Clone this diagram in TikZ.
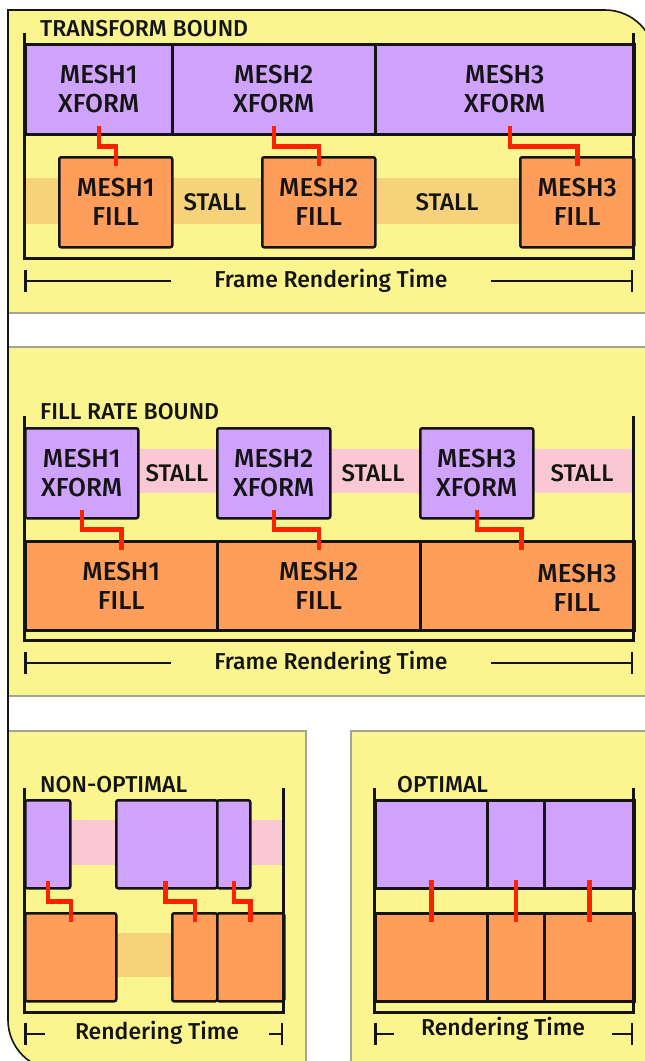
\documentclass[tikz,border=0pt]{standalone}
\usepackage{fontspec}
\setmainfont{Fira Sans Medium}
\usetikzlibrary{arrows.meta,calc}
\definecolor{bg}{RGB}{250,245,143}
\definecolor{purp}{RGB}{207,163,252}
\definecolor{orng}{RGB}{255,158,90}
\definecolor{pinkband}{RGB}{249,200,212}
\definecolor{stallor}{RGB}{246,210,122}
\definecolor{redc}{RGB}{255,34,0}
\definecolor{ink}{RGB}{20,20,20}
\definecolor{greyl}{RGB}{160,165,150}
\begin{document}
\begin{tikzpicture}[x=1pt,y=-1pt,
  box/.style={draw=ink, line width=2.5pt, rounded corners=2pt, anchor=north west, inner sep=0pt, align=center, text=ink, font=\fontsize{26}{29}\selectfont},
  xbox/.style={box, fill=purp},
  fbox/.style={box, fill=orng},
  strip/.style={rounded corners=0pt},
  bracket/.style={draw=ink, line width=3pt},
  redline/.style={draw=redc, line width=4.5pt},
  stalltext/.style={font=\fontsize{24}{26}\selectfont, text=ink, inner sep=0pt},
  titletext/.style={font=\fontsize{23}{25}\selectfont, text=ink, inner sep=0pt, anchor=base west},
  dimtext/.style={font=\fontsize{23}{25}\selectfont, text=ink, inner ysep=0pt},
  dimline/.style={draw=ink, line width=2pt, {Bar[width=22pt,line width=2.5pt]}-},
  outline/.style={draw=ink, line width=1.6pt},
  sep/.style={draw=greyl, line width=1.2pt}
]
\useasboundingbox (0,0) rectangle (645,1061);
\clip (0,0) rectangle (645,1061);
\fill[white] (0,0) rectangle (645,1061);

% ---------- panels ----------
\fill[bg] (8,313) -- (8,10) -- (605,10) .. controls (632.6,10) and (655,32.4) .. (655,60) -- (655,313) -- cycle;
\fill[bg] (8,347) rectangle (655,696);
\fill[bg] (8,731) -- (306,731) -- (306,1070) -- (58,1070) .. controls (30.4,1070) and (8,1047.6) .. (8,1020) -- cycle;
\fill[bg] (351,731) rectangle (655,1070);
\draw[sep] (8,313) -- (645,313);
\draw[sep] (8,347) -- (645,347);
\draw[sep] (8,696) -- (645,696);
\draw[sep] (8,731) -- (306,731) -- (306,1061);
\draw[sep] (645,731) -- (351,731) -- (351,1061);
\draw[outline] (58,1070) .. controls (30.4,1070) and (8,1047.6) .. (8,1020) -- (8,10) -- (605,10) .. controls (632.6,10) and (655,32.4) .. (655,60);

% ---------- panel 1: TRANSFORM BOUND ----------
\node[titletext] (t1) at (40,36) {TRANSFORM BOUND};
\fill[stallor] (24,178) rectangle (633,224);
\node[xbox, strip, minimum width=147pt, minimum height=90pt] (ax1) at (24,43) {MESH1\\XFORM};
\node[xbox, strip, minimum width=203pt, minimum height=90pt] (ax2) at (171,43) {MESH2\\XFORM};
\node[xbox, strip, minimum width=259pt, minimum height=90pt] (ax3) at (374,43) {MESH3\\XFORM};
\node[fbox, minimum width=113pt, minimum height=90pt] (af1) at (58,156) {MESH1\\FILL};
\node[fbox, minimum width=113pt, minimum height=90pt] (af2) at (261,156) {MESH2\\FILL};
\node[fbox, minimum width=114pt, minimum height=90pt] (af3) at (519,156) {MESH3\\FILL};
\node[stalltext] (as1) at (215,202) {STALL};
\node[stalltext] (as2) at (447,202) {STALL};
\draw[redline] ([yshift=10pt]ax1.south) -- ++(0,21) -| ([yshift=-10pt]af1.north);
\draw[redline] ([yshift=10pt]ax2.south) -- ++(0,21) -| ([yshift=-10pt]af2.north);
\draw[redline] ([xshift=5pt,yshift=10pt]ax3.south) -- ++(0,21) -| ([yshift=-10pt]af3.north);
\draw[bracket] (24,33) -- (24,258) -- (633,258) -- (633,33);
\coordinate (al) at (24,281);
\coordinate (ar) at (633,281);
\node[dimtext, inner xsep=43pt] (ad) at (331,281) {Frame Rendering Time};
\draw[dimline] (al) -- (ad.west);
\draw[dimline] (ar) -- (ad.east);

% ---------- panel 2: FILL RATE BOUND ----------
\node[titletext] (t2) at (40,419) {FILL RATE BOUND};
\fill[pinkband] (137,449) rectangle (633,493);
\node[xbox, minimum width=113pt, minimum height=90pt] (bx1) at (24,427) {MESH1\\XFORM};
\node[xbox, minimum width=113pt, minimum height=90pt] (bx2) at (216,427) {MESH2\\XFORM};
\node[xbox, minimum width=113pt, minimum height=90pt] (bx3) at (419,427) {MESH3\\XFORM};
\node[stalltext] (bs1) at (177,473) {STALL};
\node[stalltext] (bs2) at (373,473) {STALL};
\node[stalltext] (bs3) at (582,473) {STALL};
\node[fbox, strip, minimum width=192pt, minimum height=89pt] (bf1) at (24,540) {MESH1\\FILL};
\node[fbox, strip, minimum width=203pt, minimum height=89pt] (bf2) at (216,540) {MESH2\\FILL};
\node[fbox, strip, minimum width=214pt, minimum height=89pt] (bf3) at (419,540) {};
\node[box, draw=none, anchor=center] (bf3t) at (577,588) {MESH3\\FILL};
\draw[redline] ([yshift=10pt]bx1.south) -- ++(0,20) -| ([yshift=-10pt]bf1.north);
\draw[redline] ([yshift=10pt]bx2.south) -- ++(0,20) -| ([yshift=-10pt]bf2.north);
\draw[redline] ([yshift=10pt]bx3.south) -- ++(0,20) -| ([xshift=-6pt,yshift=-10pt]bf3.north);
\draw[bracket] (24,416) -- (24,640) -- (633,640) -- (633,416);
\coordinate (bl) at (24,663);
\coordinate (br) at (633,663);
\node[dimtext, inner xsep=43pt] (bd) at (331,663) {Frame Rendering Time};
\draw[dimline] (bl) -- (bd.west);
\draw[dimline] (br) -- (bd.east);

% ---------- panel 3: NON-OPTIMAL ----------
\node[titletext] (t3) at (40,792) {NON-OPTIMAL};
\fill[pinkband] (69,820) rectangle (115,865);
\fill[pinkband] (249,820) rectangle (283,865);
\fill[stallor] (115,933) rectangle (171,977);
\node[xbox, minimum width=45pt, minimum height=88pt] (cx1) at (24,799) {};
\node[xbox, minimum width=101pt, minimum height=88pt] (cx2) at (115,799) {};
\node[xbox, minimum width=33pt, minimum height=88pt] (cx3) at (216,799) {};
\node[fbox, minimum width=91pt, minimum height=88pt] (cf1) at (24,912) {};
\node[fbox, minimum width=45pt, minimum height=88pt] (cf2) at (171,912) {};
\node[fbox, minimum width=67pt, minimum height=88pt] (cf3) at (216,912) {};
\draw[redline] ([yshift=9pt]cx1.south) -- ++(0,21) -| ([yshift=-10pt]cf1.north);
\draw[redline] ([xshift=-1.5pt,yshift=9pt]cx2.south) -- ++(0,21) -| ([yshift=-10pt]cf2.north);
\draw[redline] ([yshift=9pt]cx3.south) -- ++(0,21) -| ([xshift=-0.5pt,yshift=-10pt]cf3.north);
\draw[bracket] (24,788) -- (24,1012) -- (283,1012) -- (283,788);
\coordinate (cl) at (24,1034);
\coordinate (cr) at (283,1034);
\node[dimtext, inner xsep=30pt] (cd) at (157,1033) {Rendering Time};
\draw[dimline] (cl) -- (cd.west |- cl);
\draw[dimline] (cr) -- (cd.east |- cr);

% ---------- panel 4: OPTIMAL ----------
\node[titletext] (t4) at (397,792) {OPTIMAL};
\node[xbox, strip, minimum width=112pt, minimum height=88pt] (dx1) at (374,799) {};
\node[xbox, strip, minimum width=57pt, minimum height=88pt] (dx2) at (486,799) {};
\node[xbox, strip, minimum width=90pt, minimum height=88pt] (dx3) at (543,799) {};
\node[fbox, strip, minimum width=112pt, minimum height=88pt] (df1) at (374,912) {};
\node[fbox, strip, minimum width=57pt, minimum height=88pt] (df2) at (486,912) {};
\node[fbox, strip, minimum width=90pt, minimum height=88pt] (df3) at (543,912) {};
\draw[redline] ([yshift=10pt]dx1.south) -- ([yshift=-10pt]df1.north);
\draw[redline] ([yshift=10pt]dx2.south) -- ([yshift=-10pt]df2.north);
\draw[redline] ([yshift=10pt]dx3.south) -- ([yshift=-10pt]df3.north);
\draw[bracket] (374,788) -- (374,1012) -- (633,1012) -- (633,788);
\coordinate (dl) at (374,1034);
\coordinate (dr) at (633,1034);
\node[dimtext, inner xsep=27pt] (dd) at (503,1029) {Rendering Time};
\draw[dimline] (dl) -- (dd.west |- dl);
\draw[dimline] (dr) -- (dd.east |- dr);
\end{tikzpicture}
\end{document}
